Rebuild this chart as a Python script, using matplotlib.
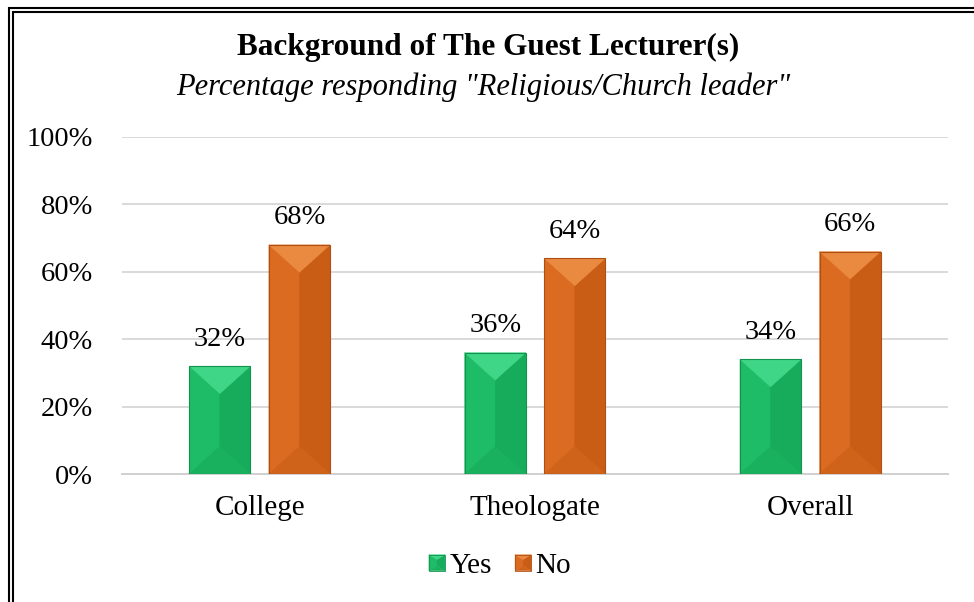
import matplotlib
matplotlib.use("Agg")
import matplotlib.pyplot as plt
from matplotlib.patches import Polygon, Rectangle
from matplotlib.legend_handler import HandlerBase
import numpy as np

categories = ["College", "Theologate", "Overall"]
series_names = ["Yes", "No"]
yes_values = [0.32, 0.36, 0.34]
no_values = [0.68, 0.64, 0.66]
yticks = [0, 0.2, 0.4, 0.6, 0.8, 1.0]
ytick_labels = ["0%", "20%", "40%", "60%", "80%", "100%"]

title = "Background of The Guest Lecturer(s)"
subtitle = 'Percentage responding "Religious/Church leader"'

# palette: main, top, left, right, bottom, edge
palettes = {
    "Yes": dict(main="#1BB862", top="#40D687", left="#1EBC66", right="#17AC5C", bottom="#19B05E", edge="#12924D"),
    "No": dict(main="#D9681E", top="#EA8A40", left="#DB6B21", right="#C95D16", bottom="#D0631A", edge="#AD4F12"),
}

plt.rcParams["font.family"] = ["Liberation Serif", "DejaVu Serif"]

W, H = 974, 602
fig = plt.figure(figsize=(W / 100, H / 100), dpi=100)
ax_left, ax_right = 122 / W, 948 / W
ax_bottom, ax_top = 1 - 474 / H, 1 - 137 / H
ax = fig.add_axes([ax_left, ax_bottom, ax_right - ax_left, ax_top - ax_bottom])

x = np.arange(len(categories))
bw = 0.222
off = 0.1445
ax.set_xlim(-0.5, len(categories) - 0.5)
ax.set_ylim(0, 1.0)

ax_w_px = (ax_right - ax_left) * W
ax_h_px = (ax_top - ax_bottom) * H
px_per_x = ax_w_px / len(categories)
px_per_y = ax_h_px / 1.0


def bevel_bar(ax, xc, width, height, pal):
    x0, x1 = xc - width / 2, xc + width / 2
    y0, y1 = 0, height
    d = 0.9 * (width / 2) * px_per_x / px_per_y
    d = min(d, height / 2)
    polys = [
        ([(x0, y0), (x0, y1), (xc, y1 - d), (xc, y0 + d)], pal["left"]),
        ([(x1, y0), (x1, y1), (xc, y1 - d), (xc, y0 + d)], pal["right"]),
        ([(x0, y1), (x1, y1), (xc, y1 - d)], pal["top"]),
        ([(x0, y0), (x1, y0), (xc, y0 + d)], pal["bottom"]),
    ]
    for pts, c in polys:
        ax.add_patch(Polygon(pts, closed=True, facecolor=c, edgecolor=c, lw=0.3, zorder=3))
    ax.add_patch(Rectangle((x0, y0), width, height, facecolor="none", edgecolor=pal["edge"], lw=0.8, zorder=4))


for vals, name, sign in [(yes_values, "Yes", -1), (no_values, "No", 1)]:
    pal = palettes[name]
    bars = ax.bar(x + sign * off, vals, bw, color=pal["main"], zorder=2)
    for b, v in zip(bars, vals):
        bevel_bar(ax, b.get_x() + b.get_width() / 2, b.get_width(), b.get_height(), pal)
        ax.annotate(f"{round(v * 100):.0f}%", (b.get_x() + b.get_width() / 2, v),
                    xytext=(0, 10.5), textcoords="offset points", ha="center", va="bottom",
                    fontsize=20.5, color="#000000")

ax.set_yticks(yticks)
ax.set_yticklabels(ytick_labels, fontsize=20.5)
ax.set_xticks(x)
ax.set_xticklabels(categories, fontsize=21)
ax.tick_params(axis="both", length=0)
ax.tick_params(axis="y", pad=21)
ax.tick_params(axis="x", pad=15)
ax.grid(axis="y", color="#D9D9D9", lw=1.4, zorder=0)
ax.set_axisbelow(True)
for s in ["left", "right", "top"]:
    ax.spines[s].set_visible(False)
ax.spines["bottom"].set_color("#D0D0D0")
ax.spines["bottom"].set_linewidth(1.4)


class BevelHandler(HandlerBase):
    def __init__(self, pal):
        super().__init__()
        self.pal = pal

    def create_artists(self, legend, orig_handle, xdescent, ydescent, width, height, fontsize, trans):
        s = min(width, height)
        x0 = -xdescent + (width - s)
        y0 = -ydescent + (height - s) / 2
        x1, y1 = x0 + s, y0 + s
        xc = (x0 + x1) / 2
        d = s / 2
        p = self.pal
        arts = []
        for pts, c in [
            ([(x0, y0), (x0, y1), (xc, y1 - d * 0.6), (xc, y0 + d * 0.6)], p["left"]),
            ([(x1, y0), (x1, y1), (xc, y1 - d * 0.6), (xc, y0 + d * 0.6)], p["right"]),
            ([(x0, y1), (x1, y1), (xc, y1 - d * 0.6)], p["top"]),
            ([(x0, y0), (x1, y0), (xc, y0 + d * 0.6)], p["bottom"]),
        ]:
            arts.append(Polygon(pts, closed=True, facecolor=c, edgecolor=c, lw=0.3, transform=trans))
        arts.append(Rectangle((x0, y0), s, s, facecolor="none", edgecolor=p["edge"], lw=0.6, transform=trans))
        return arts


h_yes = Rectangle((0, 0), 1, 1, color=palettes["Yes"]["main"])
h_no = Rectangle((0, 0), 1, 1, color=palettes["No"]["main"])
fig.legend([h_yes, h_no], series_names, loc="center", bbox_to_anchor=(500 / W, 1 - 566 / H),
           ncol=2, frameon=False, fontsize=21, handlelength=0.55, handleheight=0.55,
           handletextpad=0.15, columnspacing=0.8,
           handler_map={h_yes: BevelHandler(palettes["Yes"]), h_no: BevelHandler(palettes["No"])})

fig.text(488 / W, 1 - 47 / H, title, ha="center", va="center", fontsize=22.5, fontweight="bold")
fig.text(483 / W, 1 - 87 / H, subtitle, ha="center", va="center", fontsize=22, style="italic")

# double border (extends past right/bottom edges)
for off_px in (7, 11):
    fig.add_artist(Rectangle((off_px / W + 1.5 / W, -0.1), 1.5, 1 - off_px / H + 0.1 - 1.0 / H,
                             transform=fig.transFigure, facecolor="none", edgecolor="black", lw=1.5))

fig.savefig("out.png", dpi=100)
